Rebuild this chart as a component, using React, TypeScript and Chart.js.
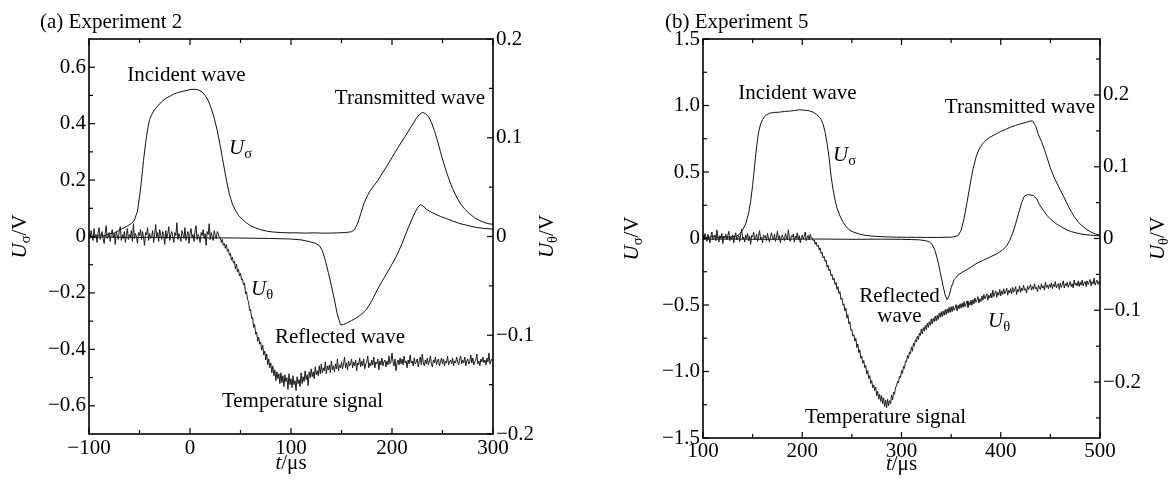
import React, { useEffect, useRef } from 'react';
import { Chart, registerables } from 'chart.js';

Chart.register(...registerables);

const FONT = '"Liberation Serif", "Times New Roman", serif';

// ---------------- Panel (a) Experiment 2 ----------------
const aXTicks = [-100, 0, 100, 200, 300];
const aXMinor = [-50, 50, 150, 250];
const aLeftTicks = [-0.6, -0.4, -0.2, 0, 0.2, 0.4, 0.6];
const aLeftMinor = [-0.5, -0.3, -0.1, 0.1, 0.3, 0.5];
const aRightTicks = [-0.2, -0.1, 0, 0.1, 0.2];
const aRightMinor = [-0.15, -0.05, 0.05, 0.15];

// incident + transmitted (U_sigma, left axis)
const aIncTrans_t = [-100, -95, -90, -85, -80, -75, -70, -66, -62, -58, -55, -52, -50, -48, -46, -44, -42, -40, -38, -35, -32, -28, -24, -20, -16, -12, -8, -4, 0, 4, 8, 12, 15, 18, 21, 24, 27, 30, 33, 36, 39, 42, 45, 48, 52, 56, 60, 65, 70, 76, 82, 90, 98, 106, 114, 122, 130, 138, 146, 154, 160, 163, 166, 169, 172, 175, 178, 182, 186, 190, 195, 200, 205, 210, 215, 220, 224, 227, 230, 233, 236, 239, 242, 245, 248, 251, 254, 257, 260, 264, 268, 272, 277, 282, 287, 292, 296, 300];
const aIncTrans_v = [0.005, -0.004, 0.006, 0.002, 0.010, 0.012, 0.022, 0.030, 0.037, 0.046, 0.058, 0.090, 0.140, 0.200, 0.270, 0.330, 0.380, 0.415, 0.432, 0.450, 0.462, 0.478, 0.490, 0.497, 0.505, 0.510, 0.514, 0.517, 0.521, 0.522, 0.520, 0.512, 0.500, 0.482, 0.455, 0.420, 0.375, 0.320, 0.260, 0.200, 0.150, 0.115, 0.092, 0.075, 0.060, 0.048, 0.038, 0.030, 0.024, 0.019, 0.016, 0.014, 0.013, 0.013, 0.012, 0.013, 0.012, 0.012, 0.013, 0.014, 0.017, 0.025, 0.047, 0.080, 0.115, 0.140, 0.160, 0.180, 0.198, 0.222, 0.250, 0.280, 0.310, 0.338, 0.366, 0.395, 0.418, 0.432, 0.440, 0.436, 0.425, 0.405, 0.375, 0.340, 0.300, 0.262, 0.228, 0.197, 0.170, 0.140, 0.115, 0.097, 0.080, 0.066, 0.056, 0.049, 0.045, 0.043];

// reflected (U_sigma, left axis)
const aRefl_t = [-100, -80, -60, -40, -20, 0, 20, 40, 60, 80, 100, 110, 118, 124, 128, 131, 134, 137, 140, 143, 146, 149, 152, 156, 160, 165, 170, 175, 180, 185, 190, 195, 200, 205, 210, 213, 216, 219, 222, 225, 228, 231, 234, 238, 243, 248, 254, 260, 267, 274, 282, 290, 300];
const aRefl_v = [-0.003, -0.002, -0.004, -0.003, -0.004, -0.004, -0.005, -0.005, -0.006, -0.007, -0.009, -0.012, -0.018, -0.024, -0.032, -0.050, -0.085, -0.128, -0.175, -0.225, -0.278, -0.313, -0.312, -0.305, -0.298, -0.288, -0.275, -0.257, -0.228, -0.192, -0.160, -0.130, -0.098, -0.065, -0.025, 0.003, 0.030, 0.055, 0.080, 0.100, 0.113, 0.108, 0.096, 0.088, 0.079, 0.071, 0.063, 0.055, 0.046, 0.040, 0.033, 0.029, 0.026];

// temperature (U_theta, right axis), one sample per us from -100
const aTemp_t0 = -100;
const aTemp_dt = 1;
const aTemp_v = [
  0.003, -0.002, 0.006, 0.001, -0.004, 0.008, -0.001, 0.002, -0.006, 0.004,
  0.009, -0.003, 0.001, 0.005, -0.002, -0.007, 0.003, 0.011, -0.002, 0.000,
  0.004, -0.005, 0.002, 0.007, -0.001, 0.003, -0.008, 0.005, 0.001, -0.003,
  0.006, 0.010, -0.004, 0.002, -0.002, 0.005, -0.006, 0.001, 0.008, -0.003,
  0.002, -0.001, 0.006, -0.005, 0.013, -0.002, 0.003, 0.000, -0.007, 0.004,
  0.001, 0.007, -0.003, 0.005, -0.001, -0.009, 0.004, 0.002, 0.009, -0.004,
  0.003, -0.002, 0.000, 0.006, -0.006, 0.002, 0.012, -0.001, 0.004, -0.005,
  0.007, 0.001, -0.003, 0.005, 0.002, -0.008, 0.006, -0.002, 0.003, 0.010,
  -0.004, 0.002, 0.005, -0.001, -0.006, 0.004, 0.001, 0.014, -0.003, 0.003,
  0.000, -0.005, 0.006, 0.002, -0.002, 0.009, -0.004, 0.001, 0.005, -0.007,
  0.003, 0.008, -0.001, 0.002, -0.005, 0.006, 0.011, -0.003, 0.002, 0.000,
  -0.006, 0.004, 0.001, 0.007, -0.002, 0.003, -0.009, 0.005, 0.002, 0.013,
  -0.003, 0.004, 0.000, -0.004, 0.006, 0.001, -0.002, 0.005, 0.003, -0.001,
  -0.001, -0.006, -0.003, -0.009, -0.007, -0.012, -0.008, -0.015, -0.013, -0.019,
  -0.017, -0.024, -0.021, -0.027, -0.025, -0.033, -0.028, -0.036, -0.033, -0.040,
  -0.037, -0.044, -0.043, -0.049, -0.047, -0.058, -0.056, -0.064, -0.066, -0.075,
  -0.074, -0.083, -0.082, -0.092, -0.089, -0.099, -0.097, -0.106, -0.102, -0.109,
  -0.107, -0.115, -0.110, -0.120, -0.116, -0.125, -0.119, -0.130, -0.124, -0.133,
  -0.128, -0.138, -0.131, -0.141, -0.135, -0.146, -0.137, -0.144, -0.139, -0.149,
  -0.138, -0.148, -0.141, -0.152, -0.140, -0.147, -0.143, -0.155, -0.139, -0.150,
  -0.144, -0.153, -0.141, -0.150, -0.146, -0.156, -0.142, -0.149, -0.145, -0.152,
  -0.138, -0.149, -0.142, -0.147, -0.136, -0.145, -0.140, -0.151, -0.137, -0.143,
  -0.134, -0.142, -0.137, -0.144, -0.132, -0.140, -0.136, -0.141, -0.131, -0.139,
  -0.129, -0.138, -0.133, -0.136, -0.127, -0.139, -0.131, -0.135, -0.130, -0.138,
  -0.126, -0.135, -0.131, -0.137, -0.129, -0.134, -0.124, -0.136, -0.130, -0.133,
  -0.127, -0.134, -0.129, -0.122, -0.133, -0.128, -0.135, -0.126, -0.131, -0.129,
  -0.124, -0.133, -0.127, -0.131, -0.125, -0.136, -0.128, -0.130, -0.123, -0.132,
  -0.126, -0.131, -0.124, -0.134, -0.129, -0.127, -0.121, -0.133, -0.128, -0.131,
  -0.125, -0.130, -0.122, -0.133, -0.127, -0.129, -0.124, -0.135, -0.126, -0.130,
  -0.123, -0.131, -0.127, -0.125, -0.132, -0.126, -0.130, -0.121, -0.129, -0.127,
  -0.118, -0.127, -0.131, -0.124, -0.136, -0.128, -0.125, -0.130, -0.123, -0.129,
  -0.124, -0.130, -0.121, -0.128, -0.126, -0.133, -0.125, -0.129, -0.120, -0.128,
  -0.126, -0.131, -0.123, -0.129, -0.127, -0.124, -0.132, -0.126, -0.122, -0.130,
  -0.119, -0.128, -0.131, -0.125, -0.129, -0.123, -0.130, -0.126, -0.121, -0.129,
  -0.132, -0.125, -0.128, -0.122, -0.130, -0.126, -0.124, -0.131, -0.127, -0.123,
  -0.129, -0.124, -0.131, -0.126, -0.128, -0.121, -0.130, -0.127, -0.125, -0.129,
  -0.123, -0.131, -0.126, -0.128, -0.122, -0.127, -0.130, -0.124, -0.121, -0.129,
  -0.125, -0.128, -0.122, -0.131, -0.126, -0.124, -0.129, -0.127, -0.120, -0.128,
  -0.123, -0.130, -0.127, -0.125, -0.119, -0.129, -0.126, -0.131, -0.124, -0.127,
  -0.122, -0.128, -0.125, -0.130, -0.123, -0.127, -0.118, -0.129, -0.126, -0.124,
  -0.127,
];

// ---------------- Panel (b) Experiment 5 ----------------
const bXTicks = [100, 200, 300, 400, 500];
const bXMinor = [150, 250, 350, 450];
const bLeftTicks = [-1.5, -1.0, -0.5, 0, 0.5, 1.0, 1.5];
const bLeftMinor = [-1.25, -0.75, -0.25, 0.25, 0.75, 1.25];
const bRightTicks = [-0.2, -0.1, 0, 0.1, 0.2];
const bRightMinor = [-0.25, -0.15, -0.05, 0.05, 0.15, 0.25];

const bIncTrans_t = [100, 105, 110, 115, 120, 125, 130, 134, 137, 140, 143, 146, 148, 150, 152, 154, 156, 158, 160, 163, 167, 172, 177, 182, 187, 192, 197, 202, 207, 211, 214, 217, 219, 221, 223, 225, 227, 229, 231, 233, 235, 238, 241, 244, 248, 252, 257, 262, 268, 275, 285, 295, 305, 315, 325, 335, 345, 352, 357, 360, 363, 366, 369, 372, 375, 378, 382, 386, 390, 395, 400, 405, 410, 415, 420, 425, 429, 432, 435, 438, 441, 444, 447, 450, 454, 458, 462, 466, 470, 474, 478, 482, 486, 490, 495, 500];
const bIncTrans_v = [0.015, 0.005, 0.018, 0.008, 0.012, 0.010, 0.014, 0.018, 0.035, 0.065, 0.110, 0.190, 0.280, 0.400, 0.547, 0.690, 0.800, 0.860, 0.895, 0.925, 0.942, 0.948, 0.950, 0.955, 0.958, 0.962, 0.968, 0.965, 0.960, 0.950, 0.935, 0.915, 0.895, 0.860, 0.800, 0.715, 0.610, 0.470, 0.370, 0.290, 0.230, 0.170, 0.125, 0.090, 0.062, 0.047, 0.035, 0.026, 0.020, 0.016, 0.012, 0.010, 0.009, 0.009, 0.008, 0.008, 0.009, 0.011, 0.022, 0.060, 0.150, 0.270, 0.400, 0.520, 0.610, 0.670, 0.715, 0.745, 0.765, 0.785, 0.805, 0.820, 0.838, 0.850, 0.862, 0.872, 0.882, 0.885, 0.850, 0.780, 0.730, 0.670, 0.600, 0.530, 0.455, 0.395, 0.335, 0.275, 0.215, 0.165, 0.125, 0.095, 0.072, 0.052, 0.035, 0.025];

const bRefl_t = [100, 130, 160, 190, 220, 250, 280, 300, 310, 318, 324, 328, 331, 334, 337, 340, 342, 344, 346, 348, 350, 353, 357, 362, 368, 375, 382, 389, 396, 402, 406, 409, 412, 415, 418, 421, 424, 427, 430, 433, 436, 439, 443, 447, 451, 456, 461, 466, 471, 477, 484, 492, 500];
const bRefl_v = [-0.005, -0.004, -0.006, -0.005, -0.004, -0.006, -0.005, -0.006, -0.008, -0.010, -0.016, -0.025, -0.045, -0.095, -0.180, -0.290, -0.360, -0.425, -0.460, -0.430, -0.370, -0.310, -0.275, -0.250, -0.225, -0.190, -0.165, -0.140, -0.115, -0.085, -0.055, -0.015, 0.040, 0.110, 0.190, 0.270, 0.320, 0.330, 0.328, 0.322, 0.300, 0.255, 0.210, 0.170, 0.140, 0.110, 0.088, 0.068, 0.052, 0.040, 0.030, 0.024, 0.020];

const bTemp_t0 = 100;
const bTemp_dt = 1;
const bTemp_v = [
  0.004, -0.001, 0.007, 0.002, -0.004, 0.006, 0.000, -0.006, 0.003, 0.009,
  -0.002, 0.001, 0.005, -0.003, 0.012, 0.002, -0.005, 0.004, 0.000, 0.007,
  -0.007, 0.003, 0.001, 0.006, -0.002, 0.004, 0.010, -0.003, 0.002, -0.001,
  0.005, -0.006, 0.003, 0.008, -0.002, 0.001, 0.004, -0.004, 0.006, 0.013,
  -0.001, 0.002, -0.005, 0.005, 0.000, 0.007, -0.003, 0.003, -0.008, 0.004,
  0.002, 0.009, -0.002, 0.001, 0.006, -0.004, 0.003, 0.011, -0.001, 0.002,
  -0.006, 0.005, 0.001, 0.004, -0.003, 0.007, 0.000, -0.005, 0.003, 0.008,
  0.001, -0.002, 0.006, -0.004, 0.002, 0.010, -0.001, 0.004, -0.006, 0.003,
  0.005, 0.000, -0.003, 0.007, 0.002, -0.002, 0.012, 0.001, -0.004, 0.004,
  0.002, 0.006, -0.005, 0.003, 0.000, 0.008, -0.002, 0.004, -0.006, 0.001,
  0.005, -0.001, 0.003, 0.009, -0.003, 0.002, 0.004, -0.002, 0.006, 0.001,
  0.001, -0.003, -0.002, -0.008, -0.005, -0.011, -0.009, -0.016, -0.013, -0.021,
  -0.019, -0.027, -0.025, -0.032, -0.030, -0.040, -0.037, -0.045, -0.043, -0.052,
  -0.050, -0.058, -0.055, -0.064, -0.061, -0.071, -0.067, -0.077, -0.074, -0.085,
  -0.083, -0.093, -0.091, -0.101, -0.097, -0.111, -0.106, -0.119, -0.116, -0.128,
  -0.127, -0.136, -0.134, -0.143, -0.139, -0.152, -0.147, -0.159, -0.155, -0.167,
  -0.164, -0.174, -0.170, -0.180, -0.177, -0.189, -0.184, -0.195, -0.191, -0.202,
  -0.198, -0.208, -0.204, -0.212, -0.207, -0.219, -0.213, -0.224, -0.217, -0.227,
  -0.219, -0.230, -0.222, -0.234, -0.225, -0.236, -0.224, -0.233, -0.226, -0.230,
  -0.218, -0.225, -0.214, -0.217, -0.207, -0.206, -0.199, -0.201, -0.192, -0.194,
  -0.184, -0.188, -0.178, -0.181, -0.171, -0.172, -0.163, -0.167, -0.158, -0.161,
  -0.151, -0.157, -0.146, -0.150, -0.141, -0.144, -0.136, -0.141, -0.132, -0.135,
  -0.126, -0.133, -0.124, -0.129, -0.121, -0.127, -0.118, -0.124, -0.116, -0.121,
  -0.112, -0.119, -0.111, -0.116, -0.108, -0.115, -0.107, -0.113, -0.104, -0.110,
  -0.102, -0.109, -0.101, -0.107, -0.099, -0.106, -0.098, -0.104, -0.096, -0.103,
  -0.095, -0.102, -0.094, -0.100, -0.097, -0.092, -0.101, -0.093, -0.098, -0.091,
  -0.097, -0.090, -0.096, -0.088, -0.095, -0.091, -0.087, -0.096, -0.089, -0.093,
  -0.086, -0.093, -0.085, -0.091, -0.083, -0.089, -0.086, -0.081, -0.090, -0.084,
  -0.088, -0.080, -0.086, -0.078, -0.084, -0.081, -0.077, -0.086, -0.079, -0.083,
  -0.076, -0.083, -0.072, -0.081, -0.077, -0.073, -0.082, -0.075, -0.079, -0.071,
  -0.080, -0.073, -0.078, -0.070, -0.077, -0.074, -0.069, -0.079, -0.072, -0.076,
  -0.070, -0.077, -0.068, -0.075, -0.072, -0.067, -0.078, -0.071, -0.074, -0.066,
  -0.075, -0.069, -0.073, -0.065, -0.072, -0.070, -0.076, -0.066, -0.071, -0.068,
  -0.064, -0.072, -0.067, -0.071, -0.063, -0.070, -0.068, -0.074, -0.065, -0.069,
  -0.071, -0.063, -0.069, -0.066, -0.072, -0.061, -0.068, -0.065, -0.070, -0.064,
  -0.068, -0.062, -0.070, -0.064, -0.067, -0.060, -0.069, -0.065, -0.063, -0.071,
  -0.062, -0.068, -0.064, -0.059, -0.069, -0.063, -0.066, -0.061, -0.068, -0.064,
  -0.060, -0.067, -0.063, -0.069, -0.058, -0.065, -0.062, -0.066, -0.059, -0.067,
  -0.061, -0.065, -0.058, -0.066, -0.062, -0.060, -0.067, -0.059, -0.064, -0.061,
  -0.057, -0.066, -0.060, -0.063, -0.055, -0.065, -0.061, -0.058, -0.064, -0.060,
  -0.062,
];

// ---------------- helpers ----------------
type Part = { text: string; italic?: boolean; sub?: boolean };
const MAIN = 21;
const SUBSZ = 14.5;

function fontOf(p: Part) {
  return `${p.italic ? 'italic ' : ''}${p.sub ? SUBSZ : MAIN}px ${FONT}`;
}

function drawRich(ctx: CanvasRenderingContext2D, parts: Part[], x: number, y: number, align: string) {
  const widths = parts.map((p) => {
    ctx.font = fontOf(p);
    return ctx.measureText(p.text).width;
  });
  const total = widths.reduce((a, b) => a + b, 0);
  let cx = align === 'center' ? x - total / 2 : align === 'right' ? x - total : x;
  ctx.textAlign = 'left';
  ctx.textBaseline = 'alphabetic';
  parts.forEach((p, i) => {
    ctx.font = fontOf(p);
    ctx.fillText(p.text, cx, y + (p.sub ? 4 : 0));
    cx += widths[i];
  });
}

const fmt = (dec: number) => (v: number) => {
  if (Math.abs(v) < 1e-9) return '0';
  return (v < 0 ? '\u2212' : '') + Math.abs(v).toFixed(dec);
};

const series = (t: number[], v: number[]) => t.map((x, i) => ({ x, y: v[i] }));
const gridSeries = (t0: number, dt: number, v: number[]) => v.map((y, i) => ({ x: t0 + i * dt, y }));

const decorPlugin = {
  id: 'decor',
  afterDraw(chart: any, _args: any, o: any) {
    const ctx: CanvasRenderingContext2D = chart.ctx;
    const a = chart.chartArea;
    const sx = chart.scales.x;
    const sl = chart.scales.yL;
    const sr = chart.scales.yR;
    ctx.save();
    ctx.strokeStyle = '#000';
    ctx.fillStyle = '#000';
    ctx.lineWidth = 1.6;
    ctx.strokeRect(a.left, a.top, a.right - a.left, a.bottom - a.top);
    ctx.lineWidth = 1.2;
    const tick = (x1: number, y1: number, x2: number, y2: number) => {
      ctx.beginPath();
      ctx.moveTo(x1, y1);
      ctx.lineTo(x2, y2);
      ctx.stroke();
    };
    const MAJ = 6, MIN = 4;
    o.xMajor.forEach((v: number) => {
      const p = sx.getPixelForValue(v);
      tick(p, a.bottom, p, a.bottom - MAJ);
      tick(p, a.top, p, a.top + MAJ);
    });
    o.xMinor.forEach((v: number) => {
      const p = sx.getPixelForValue(v);
      tick(p, a.bottom, p, a.bottom - MIN);
      tick(p, a.top, p, a.top + MIN);
    });
    o.lMajor.forEach((v: number) => {
      const p = sl.getPixelForValue(v);
      tick(a.left, p, a.left + MAJ, p);
    });
    o.lMinor.forEach((v: number) => {
      const p = sl.getPixelForValue(v);
      tick(a.left, p, a.left + MIN, p);
    });
    o.rMajor.forEach((v: number) => {
      const p = sr.getPixelForValue(v);
      tick(a.right, p, a.right - MAJ, p);
    });
    o.rMinor.forEach((v: number) => {
      const p = sr.getPixelForValue(v);
      tick(a.right, p, a.right - MIN, p);
    });
    o.notes.forEach((n: any) => {
      drawRich(ctx, n.parts, sx.getPixelForValue(n.t), sl.getPixelForValue(n.v), n.align);
    });
    drawRich(ctx, [{ text: o.title }], o.titleX, o.titleY, 'left');
    const cxm = (a.left + a.right) / 2;
    drawRich(ctx, [{ text: 't', italic: true }, { text: '/\u03bcs' }], cxm, a.bottom + o.xTitleOff, 'center');
    const cym = (a.top + a.bottom) / 2;
    ctx.save();
    ctx.translate(a.left - o.lTitleOff, cym);
    ctx.rotate(-Math.PI / 2);
    drawRich(ctx, [{ text: 'U', italic: true }, { text: '\u03c3', sub: true }, { text: '/V' }], 0, 0, 'center');
    ctx.restore();
    ctx.save();
    ctx.translate(a.right + o.rTitleOff, cym);
    ctx.rotate(-Math.PI / 2);
    drawRich(ctx, [{ text: 'U', italic: true }, { text: '\u03b8', sub: true }, { text: '/V' }], 0, 0, 'center');
    ctx.restore();
    ctx.restore();
  },
};

type PanelCfg = {
  width: number;
  xMin: number; xMax: number; lMin: number; lMax: number; rMin: number; rMax: number;
  xMajor: number[]; xMinor: number[]; lMajor: number[]; lMinor: number[]; rMajor: number[]; rMinor: number[];
  leftW: number; rightW: number; bottomH: number; xPad: number;
  lines: { data: { x: number; y: number }[]; axis: string; color: string }[];
  notes: { parts: Part[]; t: number; v: number; align: string }[];
  title: string; titleX: number; titleY: number;
  xTitleOff: number; lTitleOff: number; rTitleOff: number;
};

function Panel({ cfg }: { cfg: PanelCfg }) {
  const ref = useRef<HTMLCanvasElement>(null);
  useEffect(() => {
    if (!ref.current) return;
    const tickFont = { family: FONT, size: MAIN };
    const chart = new Chart(ref.current, {
      type: 'line',
      data: {
        datasets: cfg.lines.map((l) => ({
          data: l.data,
          yAxisID: l.axis,
          borderColor: l.color,
          borderWidth: 1,
          pointRadius: 0,
          tension: 0,
          fill: false,
        })),
      },
      options: {
        animation: false,
        responsive: false,
        devicePixelRatio: 1,
        events: [],
        layout: { padding: { top: 39, left: 0, right: 0, bottom: 0 } },
        plugins: {
          legend: { display: false },
          tooltip: { enabled: false },
          decor: {
            xMajor: cfg.xMajor, xMinor: cfg.xMinor, lMajor: cfg.lMajor, lMinor: cfg.lMinor,
            rMajor: cfg.rMajor, rMinor: cfg.rMinor, notes: cfg.notes, title: cfg.title,
            titleX: cfg.titleX, titleY: cfg.titleY, xTitleOff: cfg.xTitleOff,
            lTitleOff: cfg.lTitleOff, rTitleOff: cfg.rTitleOff,
          },
        } as any,
        scales: {
          x: {
            type: 'linear', position: 'bottom', min: cfg.xMin, max: cfg.xMax,
            grid: { display: false, drawTicks: false }, border: { display: false },
            afterBuildTicks: (s: any) => { s.ticks = cfg.xMajor.map((v) => ({ value: v })); },
            afterFit: (s: any) => { s.height = cfg.bottomH; },
            ticks: { font: tickFont, color: '#000', padding: cfg.xPad, maxRotation: 0, autoSkip: false, callback: (v: any) => fmt(0)(Number(v)) },
          },
          yL: {
            type: 'linear', position: 'left', min: cfg.lMin, max: cfg.lMax,
            grid: { display: false, drawTicks: false }, border: { display: false },
            afterBuildTicks: (s: any) => { s.ticks = cfg.lMajor.map((v) => ({ value: v })); },
            afterFit: (s: any) => { s.width = cfg.leftW; },
            ticks: { font: tickFont, color: '#000', padding: 3, autoSkip: false, callback: (v: any) => fmt(1)(Number(v)) },
          },
          yR: {
            type: 'linear', position: 'right', min: cfg.rMin, max: cfg.rMax,
            grid: { display: false, drawTicks: false }, border: { display: false },
            afterBuildTicks: (s: any) => { s.ticks = cfg.rMajor.map((v) => ({ value: v })); },
            afterFit: (s: any) => { s.width = cfg.rightW; },
            ticks: { font: tickFont, color: '#000', padding: 3, autoSkip: false, callback: (v: any) => fmt(1)(Number(v)) },
          },
        } as any,
      },
      plugins: [decorPlugin],
    } as any);
    return () => chart.destroy();
  }, [cfg]);
  return <canvas ref={ref} width={cfg.width} height={481} style={{ display: 'block', width: cfg.width, height: 481 }} />;
}

const panelA: PanelCfg = {
  width: 585,
  xMin: -100, xMax: 300, lMin: -0.7, lMax: 0.7, rMin: -0.2, rMax: 0.2,
  xMajor: aXTicks, xMinor: aXMinor, lMajor: aLeftTicks, lMinor: aLeftMinor, rMajor: aRightTicks, rMinor: aRightMinor,
  leftW: 89, rightW: 92, bottomH: 47, xPad: 2,
  lines: [
    { data: gridSeries(aTemp_t0, aTemp_dt, aTemp_v), axis: 'yR', color: '#1a1a1a' },
    { data: series(aRefl_t, aRefl_v), axis: 'yL', color: '#111' },
    { data: series(aIncTrans_t, aIncTrans_v), axis: 'yL', color: '#111' },
  ],
  notes: [
    { parts: [{ text: 'Incident wave' }], t: -3.5, v: 0.551, align: 'center' },
    { parts: [{ text: 'U', italic: true }, { text: '\u03c3', sub: true }], t: 38.6, v: 0.292, align: 'left' },
    { parts: [{ text: 'Transmitted wave' }], t: 217.8, v: 0.47, align: 'center' },
    { parts: [{ text: 'U', italic: true }, { text: '\u03b8', sub: true }], t: 60.4, v: -0.207, align: 'left' },
    { parts: [{ text: 'Reflected wave' }], t: 148.5, v: -0.377, align: 'center' },
    { parts: [{ text: 'Temperature signal' }], t: 111.4, v: -0.604, align: 'center' },
  ],
  title: '(a) Experiment 2', titleX: 40, titleY: 28,
  xTitleOff: 35, lTitleOff: 63, rTitleOff: 60,
};

const panelB: PanelCfg = {
  width: 586,
  xMin: 100, xMax: 500, lMin: -1.5, lMax: 1.5, rMin: -0.278, rMax: 0.278,
  xMajor: bXTicks, xMinor: bXMinor, lMajor: bLeftTicks, lMinor: bLeftMinor, rMajor: bRightTicks, rMinor: bRightMinor,
  leftW: 118, rightW: 71, bottomH: 43, xPad: 1,
  lines: [
    { data: gridSeries(bTemp_t0, bTemp_dt, bTemp_v), axis: 'yR', color: '#1a1a1a' },
    { data: series(bRefl_t, bRefl_v), axis: 'yL', color: '#111' },
    { data: series(bIncTrans_t, bIncTrans_v), axis: 'yL', color: '#111' },
  ],
  notes: [
    { parts: [{ text: 'Incident wave' }], t: 195.2, v: 1.049, align: 'center' },
    { parts: [{ text: 'U', italic: true }, { text: '\u03c3', sub: true }], t: 231, v: 0.583, align: 'left' },
    { parts: [{ text: 'Transmitted wave' }], t: 419.4, v: 0.944, align: 'center' },
    { parts: [{ text: 'Reflected' }], t: 298, v: -0.477, align: 'center' },
    { parts: [{ text: 'wave' }], t: 298, v: -0.628, align: 'center' },
    { parts: [{ text: 'U', italic: true }, { text: '\u03b8', sub: true }], t: 387.2, v: -0.665, align: 'left' },
    { parts: [{ text: 'Temperature signal' }], t: 283.9, v: -1.389, align: 'center' },
  ],
  title: '(b) Experiment 5', titleX: 80, titleY: 28,
  xTitleOff: 32, lTitleOff: 65, rTitleOff: 64,
};

export default function App() {
  return (
    <div style={{ position: 'fixed', left: 0, top: 0, width: 1171, height: 481, background: '#fff', display: 'flex' }}>
      <Panel cfg={panelA} />
      <Panel cfg={panelB} />
    </div>
  );
}
